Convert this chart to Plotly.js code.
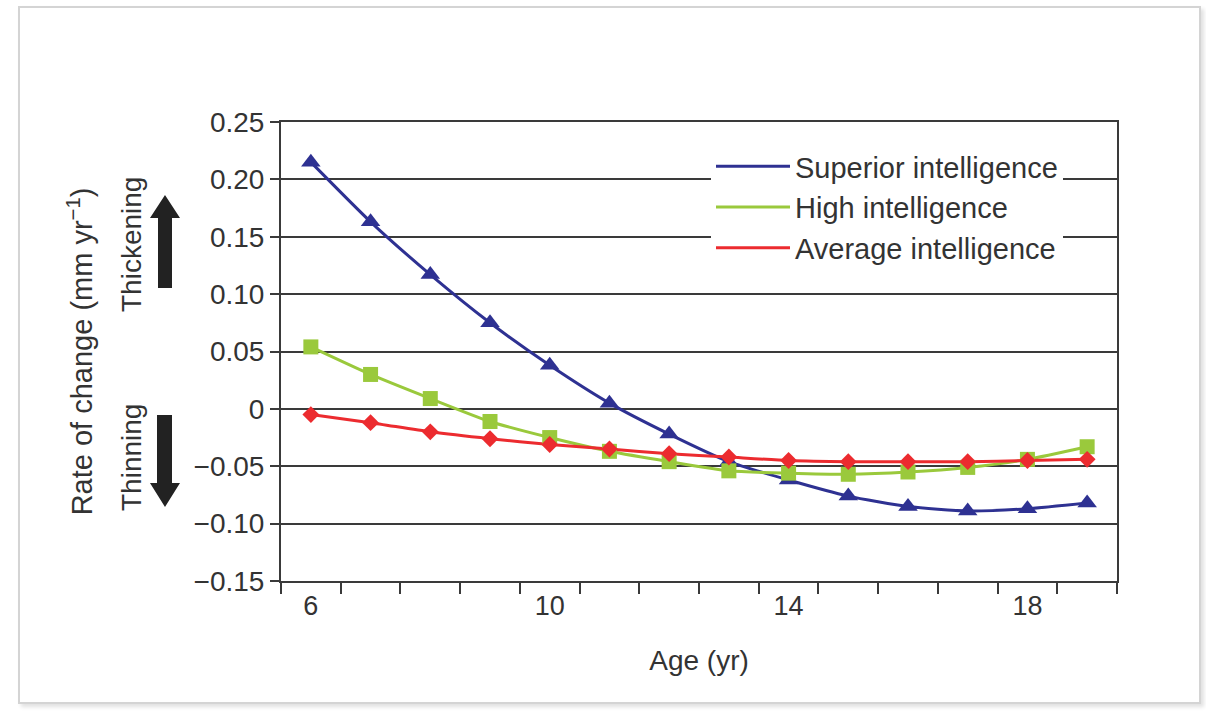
<!DOCTYPE html>
<html>
<head>
<meta charset="utf-8">
<script src="https://cdn.plot.ly/plotly-3.0.1.min.js"></script>
<style>
  html, body { margin: 0; padding: 0; background: #ffffff; }
  #wrap { position: relative; width: 1206px; height: 711px; overflow: hidden; }
  #chart { position: absolute; left: 0; top: 0; width: 1206px; height: 711px; }
  #frame { position: absolute; left: 18px; top: 6px; width: 1179px; height: 694px;
           border: 2px solid #d4d4d4; box-shadow: 3px 3px 4px rgba(0,0,0,0.12);
           pointer-events: none; }
</style>
</head>
<body>
<div id="wrap">
  <div id="chart"></div>
  <div id="frame"></div>
</div>
<script>
// ---- data ----
const ages = [6, 7, 8, 9, 10, 11, 12, 13, 14, 15, 16, 17, 18, 19];
const superiorIQ = [0.215, 0.163, 0.117, 0.075, 0.038, 0.005, -0.022, -0.046, -0.062, -0.076, -0.085, -0.089, -0.087, -0.082];
const highIQ = [0.054, 0.030, 0.009, -0.011, -0.025, -0.037, -0.046, -0.054, -0.056, -0.057, -0.055, -0.051, -0.044, -0.033];
const averageIQ = [-0.005, -0.012, -0.020, -0.026, -0.031, -0.035, -0.039, -0.042, -0.045, -0.046, -0.046, -0.046, -0.045, -0.044];
const seriesNames = ['Superior intelligence', 'High intelligence', 'Average intelligence'];
const xTickVals = [6, 10, 14, 18];
const yTickVals = [-0.15, -0.10, -0.05, 0, 0.05, 0.10, 0.15, 0.20, 0.25];
const yTickText = ['\u22120.15', '\u22120.10', '\u22120.05', '0', '0.05', '0.10', '0.15', '0.20', '0.25'];

// ---- style ----
const colors = ['#2e3192', '#9ac93c', '#ec2b2f'];
const symbols = ['triangle-up', 'square', 'diamond'];
const msizes = [17, 15, 13];
const FONT = 'Liberation Sans, Arial, Helvetica, sans-serif';
const TXT = '#333333';
const GRID = '#3a3a3a';

const allSeries = [superiorIQ, highIQ, averageIQ];
const traces = [];
allSeries.forEach((vals, i) => {
  traces.push({
    x: ages, y: vals, type: 'scatter', mode: 'lines', name: seriesNames[i],
    line: { color: colors[i], width: 3, shape: 'spline', smoothing: 0.6 },
    showlegend: true, hoverinfo: 'skip'
  });
});
allSeries.forEach((vals, i) => {
  traces.push({
    x: ages, y: vals, type: 'scatter', mode: 'markers', name: seriesNames[i],
    marker: { color: colors[i], symbol: symbols[i], size: msizes[i], line: { width: 0 } },
    showlegend: false
  });
});

// plot-area pixel box: left 281, right 1117, top 122, bottom 581
const L = 281, R = 1117, T = 122, B = 581;
const px = x => (x - L) / (R - L);
const py = y => (B - y) / (B - T);
function poly(pts) {
  return 'M' + pts.map(p => px(p[0]).toFixed(5) + ',' + py(p[1]).toFixed(5)).join(' L') + ' Z';
}
const upArrow = poly([[165,195],[180,218],[172,218],[172,288],[158,288],[158,218],[150,218]]);
const downArrow = poly([[157,415],[172,415],[172,483],[180,483],[165,507],[150,483],[157,483]]);

const layout = {
  width: 1206, height: 711,
  margin: { l: L, r: 1206 - R, t: T, b: 711 - B, pad: 0 },
  paper_bgcolor: '#ffffff', plot_bgcolor: '#ffffff',
  font: { family: FONT, color: TXT, size: 28 },
  showlegend: true,
  legend: {
    x: px(711), y: py(141), xanchor: 'left', yanchor: 'top',
    bgcolor: '#ffffff', borderwidth: 0,
    font: { family: FONT, size: 29, color: TXT },
    itemwidth: 74, tracegroupgap: 0
  },
  xaxis: {
    range: [5.5, 19.5], tickmode: 'array', tickvals: xTickVals,
    ticks: '', showgrid: false, zeroline: false,
    showline: true, linecolor: GRID, linewidth: 2, mirror: true,
    tickfont: { family: FONT, size: 27, color: TXT },
    minor: { ticks: 'outside', tick0: 5.5, dtick: 1, ticklen: 11, tickwidth: 2, tickcolor: GRID, showgrid: false },
    title: { text: 'Age (yr)', font: { family: FONT, size: 28, color: TXT }, standoff: 30 },
    fixedrange: true
  },
  yaxis: {
    range: [-0.15, 0.25], tickmode: 'array', tickvals: yTickVals, ticktext: yTickText,
    ticks: 'outside', ticklen: 9, tickwidth: 2, tickcolor: GRID,
    showgrid: true, gridcolor: GRID, gridwidth: 2, zeroline: false,
    showline: true, linecolor: GRID, linewidth: 2, mirror: true,
    tickfont: { family: FONT, size: 28, color: TXT },
    title: { text: 'Rate of change (mm yr<sup>\u22121</sup>)', font: { family: FONT, size: 29, color: TXT }, standoff: 92 },
    fixedrange: true
  },
  shapes: [
    { type: 'path', xref: 'paper', yref: 'paper', path: upArrow, fillcolor: '#222222', line: { width: 0 } },
    { type: 'path', xref: 'paper', yref: 'paper', path: downArrow, fillcolor: '#222222', line: { width: 0 } }
  ],
  annotations: [
    { text: 'Thickening', xref: 'paper', yref: 'paper', x: px(131), y: py(245), textangle: -90,
      showarrow: false, font: { family: FONT, size: 28, color: TXT }, xanchor: 'center', yanchor: 'middle' },
    { text: 'Thinning', xref: 'paper', yref: 'paper', x: px(131), y: py(458), textangle: -90,
      showarrow: false, font: { family: FONT, size: 28, color: TXT }, xanchor: 'center', yanchor: 'middle' }
  ]
};

Plotly.newPlot('chart', traces, layout, { staticPlot: true, displayModeBar: false });
</script>
</body>
</html>
